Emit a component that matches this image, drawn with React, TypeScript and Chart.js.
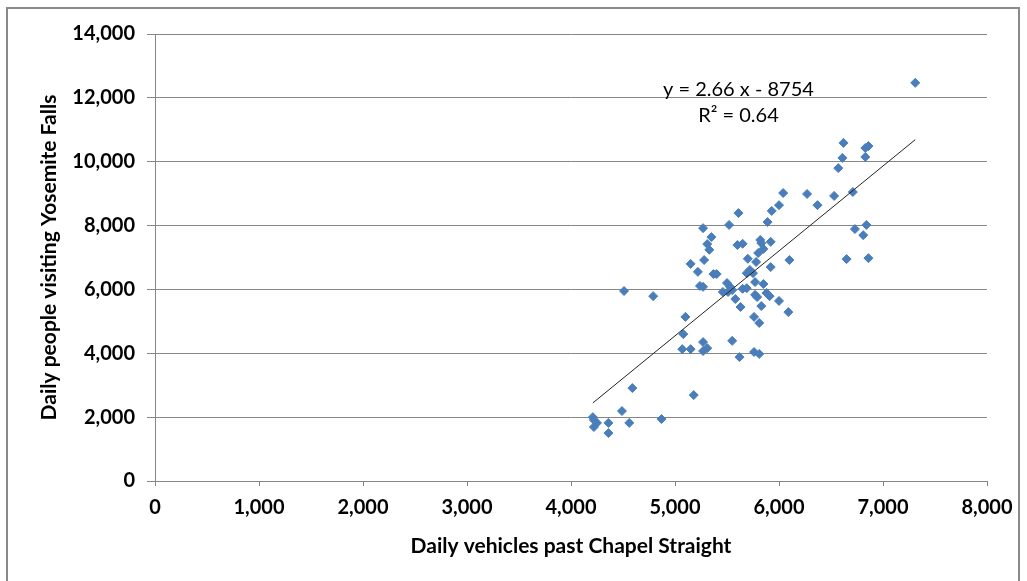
import React, { useEffect, useRef } from "react";
import { Chart, registerables } from "chart.js";

Chart.register(...registerables);

// Daily vehicles past Chapel Straight (x)
const vehicles = [
  4210, 4220, 4250, 4220, 4360, 4360, 4490, 4560, 4590, 4870, 4510, 4790,
  5180, 5080, 5100, 5070, 5150, 5270, 5270, 5310, 5240, 5270, 5150, 5220,
  5280, 5270, 5350, 5310, 5330, 5370, 5400, 5460, 5500, 5510, 5530, 5550,
  5550, 5620, 5580, 5630, 5650, 5690, 5610, 5520, 5600, 5650, 5700, 5690,
  5720, 5750, 5760, 5810, 5760, 5810, 5830, 5780, 5920, 5770, 5850, 5770,
  5790, 5880, 5910, 6000, 6090, 6100, 5820, 5830, 5920, 5800, 5850, 5890,
  5930, 6000, 6040, 6270, 6370, 6530, 6710, 6570, 6610, 6620, 6830, 6830,
  6860, 7310, 6730, 6840, 6810, 6650, 6860,
];

// Daily people visiting Yosemite Falls (y)
const visitors = [
  2000, 1910, 1820, 1690, 1820, 1500, 2190, 1820, 2910, 1940, 5950, 5790,
  2690, 4600, 5140, 4130, 4130, 4350, 4070, 4160, 6110, 6080, 6800, 6550,
  6920, 7920, 7640, 7420, 7240, 6480, 6480, 5920, 6200, 5920, 6080, 5980,
  4390, 3880, 5700, 5450, 6020, 6040, 8390, 8020, 7390, 7430, 6960, 6510,
  6610, 6510, 4040, 3980, 5140, 4950, 5480, 6860, 6700, 6230, 6170, 5830,
  5760, 5890, 5790, 5640, 5290, 6920, 7550, 7450, 7490, 7140, 7270, 8110,
  8460, 8640, 9020, 8990, 8640, 8930, 9050, 9800, 10120, 10590, 10150, 10430,
  10490, 12470, 7890, 8020, 7700, 6950, 6980,
];

const trendSlope = 2.66;
const trendIntercept = -8754;
const equationLabel = "y = 2.66 x - 8754";
const r2Label = "R\u00B2 = 0.64";
const equationAnchor = { x: 5610, y: 12250 };
const r2Anchor = { x: 5610, y: 11440 };

const xTitle = "Daily vehicles past Chapel Straight";
const yTitle = "Daily people visiting Yosemite Falls";
const xMin = 0, xMax = 8000, xStep = 1000;
const yMin = 0, yMax = 14000, yStep = 2000;

const FONT = "Lato, 'Liberation Sans', sans-serif";
const GRID = "#868686";
const POINT = "#4a7ebb";

export default function App() {
  const ref = useRef<HTMLCanvasElement>(null);

  useEffect(() => {
    if (!ref.current) return;
    const points = vehicles.map((x, i) => ({ x, y: visitors[i] }));
    const lo = Math.min(...vehicles);
    const hi = Math.max(...vehicles);
    const trend = [
      { x: lo, y: trendSlope * lo + trendIntercept },
      { x: hi, y: trendSlope * hi + trendIntercept },
    ];

    const eqPlugin = {
      id: "eqLabel",
      afterDatasetsDraw(chart: any) {
        const { ctx, scales } = chart;
        const sx = scales.x, sy = scales.y;
        ctx.save();
        ctx.font = `20px ${FONT}`;
        ctx.fillStyle = "#000";
        ctx.textAlign = "center";
        ctx.textBaseline = "middle";
        ctx.fillText(equationLabel, sx.getPixelForValue(equationAnchor.x), sy.getPixelForValue(equationAnchor.y));
        ctx.fillText(r2Label, sx.getPixelForValue(r2Anchor.x), sy.getPixelForValue(r2Anchor.y));
        ctx.restore();
      },
    };

    const chart = new Chart(ref.current, {
      type: "scatter",
      data: {
        datasets: [
          {
            type: "line",
            data: trend,
            borderColor: "#222",
            borderWidth: 1,
            pointRadius: 0,
            fill: false,
          } as any,
          {
            data: points,
            pointStyle: "rectRot",
            pointRadius: 4.5,
            pointHoverRadius: 4.5,
            backgroundColor: POINT,
            borderColor: POINT,
            borderWidth: 1,
          },
        ],
      },
      options: {
        animation: false,
        responsive: false,
        maintainAspectRatio: false,
        layout: { padding: { left: 0, top: 34, right: 40, bottom: 0 } },
        plugins: { legend: { display: false }, tooltip: { enabled: false } },
        scales: {
          x: {
            type: "linear",
            min: xMin,
            max: xMax,
            afterFit: (s: any) => { s.height = 100; },
            ticks: {
              stepSize: xStep,
              color: "#000",
              padding: 10,
              font: { family: FONT, size: 20, weight: "bold" },
              maxRotation: 0,
            },
            grid: { drawOnChartArea: false, drawTicks: true, tickLength: 5, color: GRID },
            border: { display: true, color: GRID, width: 1 },
            title: {
              display: true,
              text: xTitle,
              color: "#000",
              font: { family: FONT, size: 21, weight: "bold" },
              padding: { top: 0, bottom: 22 },
            },
          },
          y: {
            type: "linear",
            min: yMin,
            max: yMax,
            afterFit: (s: any) => { s.width = 155; },
            ticks: {
              stepSize: yStep,
              color: "#000",
              padding: 12,
              font: { family: FONT, size: 20, weight: "bold" },
            },
            grid: { color: GRID, tickLength: 8 },
            border: { display: true, color: GRID, width: 1 },
            title: {
              display: true,
              text: yTitle,
              color: "#000",
              font: { family: FONT, size: 21, weight: "bold" },
              padding: { top: 37, bottom: 0 },
            },
          },
        },
      },
      plugins: [eqPlugin],
    } as any);

    return () => chart.destroy();
  }, []);

  return (
    <div style={{ position: "fixed", left: 0, top: 0, width: 1027, height: 581, background: "#fff", overflow: "hidden" }}>
      <div
        style={{
          position: "absolute",
          left: 6,
          top: 7,
          width: 1014,
          height: 600,
          border: "2px solid #8a8a8a",
          boxSizing: "border-box",
        }}
      />
      <canvas ref={ref} width={1027} height={581} style={{ position: "absolute", left: 0, top: 0, width: 1027, height: 581 }} />
    </div>
  );
}
